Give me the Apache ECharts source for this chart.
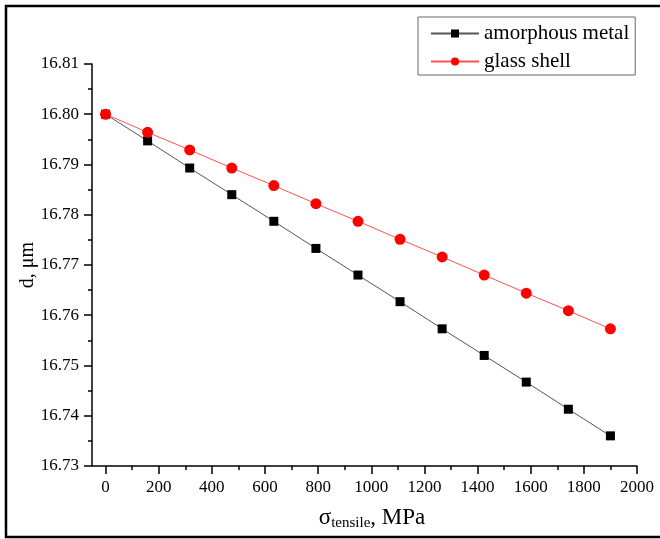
<!DOCTYPE html>
<html>
<head>
<meta charset="utf-8">
<script src="https://cdn.jsdelivr.net/npm/echarts@6/dist/echarts.min.js"></script>
<style>html,body{margin:0;padding:0;background:#fff;}#c{width:660px;height:539px;}</style>
</head>
<body>
<div id="c"></div>
<script>
const stress = [0, 158.3, 316.7, 475, 633.3, 791.7, 950, 1108.3, 1266.7, 1425, 1583.3, 1741.7, 1900];
const amorphousMetal = [16.8000, 16.7947, 16.7893, 16.7840, 16.7787, 16.7733, 16.7680, 16.7627, 16.7573, 16.7520, 16.7467, 16.7413, 16.7360];
const glassShell = [16.8000, 16.7964, 16.7929, 16.7893, 16.7858, 16.7822, 16.7787, 16.7751, 16.7716, 16.7680, 16.7644, 16.7609, 16.7573];
const xMajorTicks = [0, 200, 400, 600, 800, 1000, 1200, 1400, 1600, 1800, 2000];
const xMinorTicks = [100, 300, 500, 700, 900, 1100, 1300, 1500, 1700, 1900];
const seriesNames = ['amorphous metal', 'glass shell'];

const FONT = '"Liberation Serif", "DejaVu Serif", serif';
const chart = echarts.init(document.getElementById('c'), null, {renderer: 'canvas'});
const zip = (xs, ys) => xs.map((x, i) => [x, ys[i]]);

chart.setOption({
  animation: false,
  backgroundColor: '#fff',
  grid: {left: 92, right: 23, top: 64, bottom: 73, containLabel: false},
  legend: {
    orient: 'vertical',
    left: 418, top: 17,
    padding: [6, 6, 3, 12],
    itemWidth: 48, itemHeight: 10, itemGap: 7,
    borderColor: '#666', borderWidth: 1,
    textStyle: {fontFamily: FONT, fontSize: 21, color: '#000', lineHeight: 21},
    data: seriesNames
  },
  xAxis: [{
    type: 'value', min: -51, max: 2000,
    splitLine: {show: false},
    axisLine: {show: true, onZero: false, lineStyle: {color: '#000', width: 1.5}},
    axisTick: {show: true, customValues: xMajorTicks, length: 8, lineStyle: {color: '#000', width: 1.5}},
    axisLabel: {customValues: xMajorTicks, fontFamily: FONT, fontSize: 17, color: '#000', margin: 13,
      formatter: v => String(Math.round(v))}
  }, {
    type: 'value', min: -51, max: 2000, position: 'bottom',
    splitLine: {show: false},
    axisLine: {show: false},
    axisTick: {show: true, customValues: xMinorTicks, length: 4, lineStyle: {color: '#000', width: 1.5}},
    axisLabel: {show: false, customValues: xMinorTicks}
  }],
  yAxis: {
    type: 'value', min: 16.73, max: 16.81, interval: 0.01,
    splitLine: {show: false},
    axisLine: {show: true, onZero: false, lineStyle: {color: '#000', width: 1.5}},
    axisTick: {show: true, length: 8, lineStyle: {color: '#000', width: 1.5}},
    minorTick: {show: true, splitNumber: 2, length: 4, lineStyle: {color: '#000', width: 1.5}},
    axisLabel: {fontFamily: FONT, fontSize: 17, color: '#000', margin: 13,
      formatter: v => v.toFixed(2)}
  },
  series: [{
    name: seriesNames[0], type: 'line', xAxisIndex: 0,
    data: zip(stress, amorphousMetal),
    symbol: 'rect', symbolSize: 9,
    itemStyle: {color: '#000'},
    lineStyle: {color: '#555', width: 1},
    z: 2
  }, {
    name: seriesNames[1], type: 'line', xAxisIndex: 0,
    data: zip(stress, glassShell),
    symbol: 'circle', symbolSize: 11,
    itemStyle: {color: '#ff0000'},
    lineStyle: {color: '#ff5050', width: 1},
    z: 3
  }],
  graphic: [{
    type: 'rect', shape: {x: 6, y: 6, width: 700, height: 531},
    style: {fill: 'none', stroke: '#000', lineWidth: 2.5}, silent: true
  }, {
    type: 'text', x: 372, y: 518,
    style: {
      text: '{a|σ}{s|tensile}{a|, MPa}',
      align: 'center', verticalAlign: 'middle',
      rich: {
        a: {fontFamily: FONT, fontSize: 23, fill: '#000'},
        s: {fontFamily: FONT, fontSize: 15, fill: '#000', verticalAlign: 'bottom', padding: [11, 0, 0, 0]}
      }
    }
  }, {
    type: 'text', x: 28, y: 265, rotation: Math.PI / 2,
    style: {text: 'd, μm', fontFamily: FONT, fontSize: 20, fill: '#000', align: 'center', verticalAlign: 'middle'}
  }]
});
</script>
</body>
</html>
